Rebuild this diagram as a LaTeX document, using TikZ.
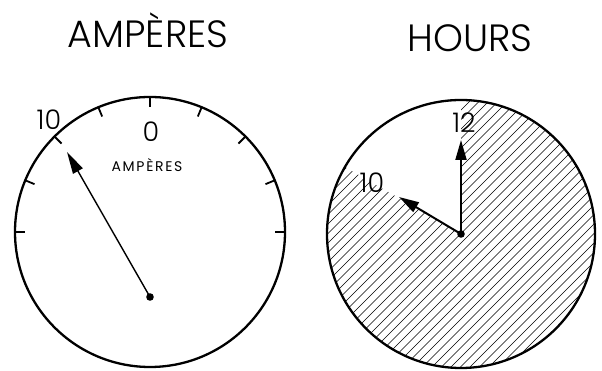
\documentclass[tikz,border=0pt]{standalone}
\usepackage{fontspec}
\setmainfont{Poppins}
\newfontfamily\lightfont{Poppins Light}
\usetikzlibrary{arrows.meta}
\begin{document}
\begin{tikzpicture}[x=1pt,y=1pt,
  dial/.style={line width=2.3pt},
  tickmark/.style={line width=1.8pt},
  needle/.style={line width=1.4pt,-{Triangle[length=22pt,width=11pt]}},
  hand/.style={line width=2pt,-{Triangle[length=20pt,width=11pt]}},
  hatchline/.style={line width=0.6pt},
  title/.style={font=\lightfont\fontsize{38}{40}\selectfont, inner sep=0pt, anchor=base},
  num/.style={font=\lightfont\fontsize{27}{30}\selectfont, inner sep=0pt, anchor=base},
  small/.style={font=\fontsize{14}{16}\selectfont\addfontfeature{LetterSpace=12}, inner sep=0pt, anchor=base}]
\useasboundingbox (0,0) rectangle (602,371);
% titles
\node[title] (t1) at (148,323) {AMPÈRES};
\node[title] (t2) at (470,319) {HOURS};
% left dial
\coordinate (lc) at (150,139);
\coordinate (piv) at (150,74);
\coordinate (tip) at (67,219);
\draw[dial] (lc) circle (135);
\foreach \a in {0,22.5,...,180}
  \draw[tickmark] (lc) ++(\a:135) -- ++(\a+180:10);
\node[num] (l10) at (49,241) {10};
\node[num] (l0) at (151,229) {0};
\node[small] (lamp) at (147,199) {AMPÈRES};
\draw[needle] (piv) -- (tip);
\fill (piv) circle (3.8);
% right dial
\coordinate (rc) at (461,137);
\coordinate (h12) at (461,231);
\coordinate (h10) at (399,174);
\begin{scope}
  \clip (rc) -- ++(150:134) arc[start angle=150,end angle=450,radius=134] -- cycle;
  \foreach \s in {-200,-190.5,...,200}
    \draw[hatchline] (rc) ++(\s-150,-150) -- ++(300,300);
\end{scope}
\draw[dial] (rc) circle (134);
\draw[hand] (rc) -- (h12);
\draw[hand] (rc) -- (h10);
\fill (rc) circle (3.8);
\node[num] (r12) at (464,238) {12};
\node[num] (r10) at (372,178) {10};
\end{tikzpicture}
\end{document}
